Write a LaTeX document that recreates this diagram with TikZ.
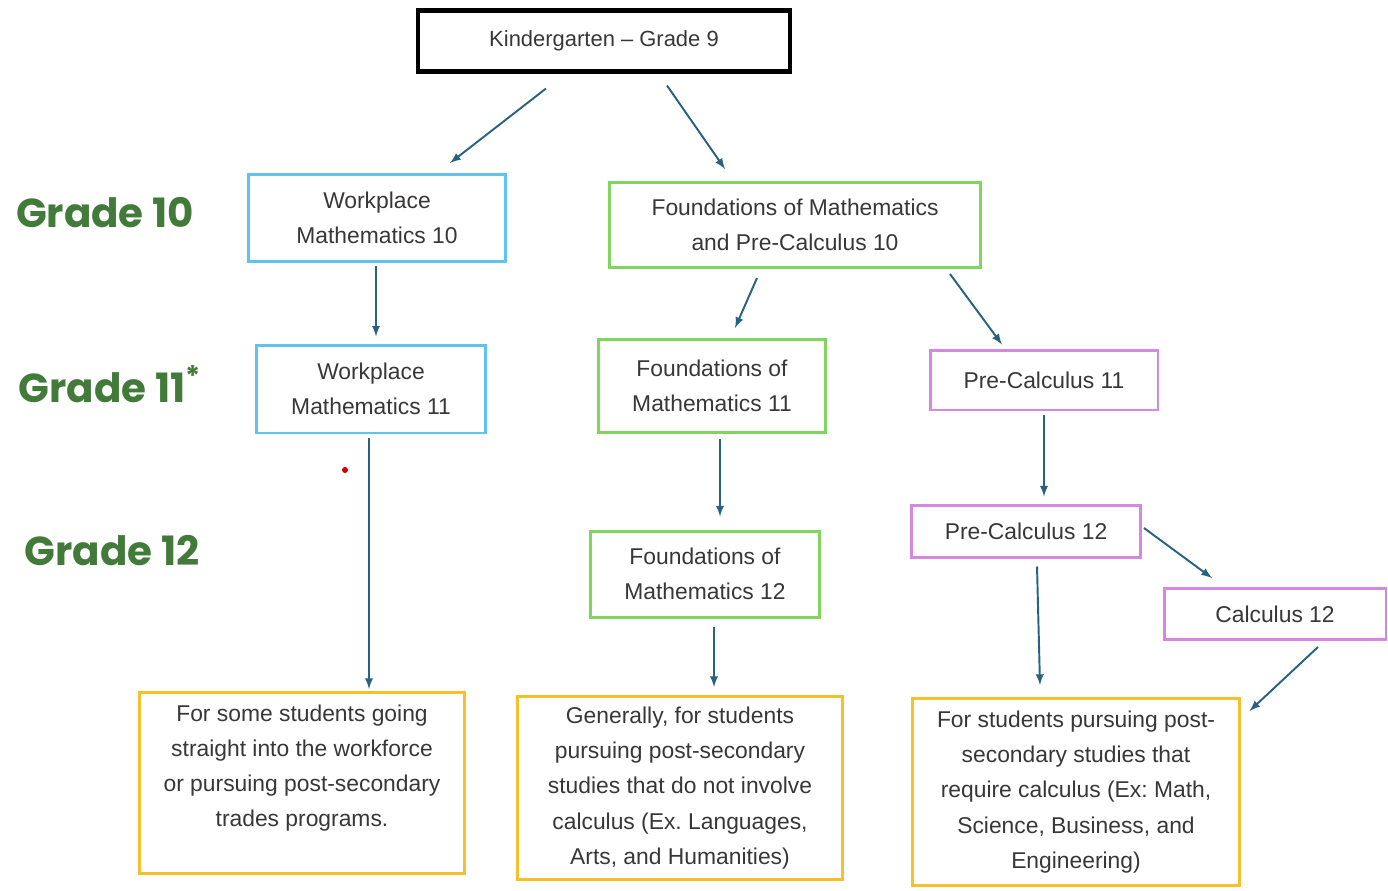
\documentclass[tikz,border=0pt]{standalone}
\usepackage{fontspec}
\setmainfont{Liberation Sans}
\newfontfamily\gradefont{Poppins}
\frenchspacing

\definecolor{wpblue}{RGB}{95,195,238}
\definecolor{fmgreen}{RGB}{128,214,92}
\definecolor{pcpink}{RGB}{214,135,224}
\definecolor{outyellow}{RGB}{246,192,40}
\definecolor{arrblue}{RGB}{40,98,128}
\definecolor{txtgray}{RGB}{55,55,55}
\definecolor{gradegreen}{RGB}{66,122,58}

\begin{document}
\begin{tikzpicture}[x=0.02cm,y=-0.02cm,
  box/.style={draw,line width=1.7pt,align=center,inner sep=0pt,text=txtgray,
    font=\fontsize{13}{20}\selectfont},
  arr/.style={draw=arrblue,line width=1.1pt,-{latex}},
  grade/.style={text=gradegreen,font=\gradefont\bfseries\fontsize{23}{26}\selectfont}]

\useasboundingbox (0,0) rectangle (1388,890);

% grade labels
\node [grade] (g10) at (105,213) {Grade 10};
\node [grade] (g11) at (110,384) {Grade 11\textsuperscript{*}};
\node [grade] (g12) at (112,551) {Grade 12};

% courses
\node [box,draw=black,line width=2.3pt,minimum width=7.44cm,minimum height=1.22cm,
  font=\fontsize{12.5}{18}\selectfont] (kg) at (604,41) {Kindergarten -- Grade 9};
\node [box,draw=wpblue,minimum width=5.16cm,minimum height=1.74cm] (wp10) at (377,218)
  {Workplace\\Mathematics 10};
\node [box,draw=fmgreen,minimum width=7.42cm,minimum height=1.70cm] (fpc10) at (795,225)
  {Foundations of Mathematics\\and Pre-Calculus 10};
\node [box,draw=wpblue,minimum width=4.58cm,minimum height=1.76cm] (wp11) at (371,389)
  {Workplace\\Mathematics 11};
\node [box,draw=fmgreen,minimum width=4.56cm,minimum height=1.86cm] (fm11) at (712,386)
  {Foundations of\\Mathematics 11};
\node [box,draw=pcpink,minimum width=4.56cm,minimum height=1.20cm] (pc11) at (1044,380)
  {Pre-Calculus 11};
\node [box,draw=fmgreen,minimum width=4.58cm,minimum height=1.72cm] (fm12) at (705,574)
  {Foundations of\\Mathematics 12};
\node [box,draw=pcpink,minimum width=4.58cm,minimum height=1.04cm] (pc12) at (1026,531)
  {Pre-Calculus 12};
\node [box,draw=pcpink,minimum width=4.44cm,minimum height=1.02cm] (calc12) at (1275,614)
  {Calculus 12};

% where they lead
\node [box,draw=outyellow,minimum width=6.52cm,minimum height=3.62cm] (trades) at (302,783)
  {For some students going\\straight into the workforce\\or pursuing post-secondary\\trades programs.\\~};
\node [box,draw=outyellow,minimum width=6.50cm,minimum height=3.66cm] (nocalc) at (680,788)
  {Generally, for students\\pursuing post-secondary\\studies that do not involve\\calculus (Ex. Languages,\\Arts, and Humanities)};
\node [box,draw=outyellow,minimum width=6.56cm,minimum height=3.74cm] (calc) at (1076,792)
  {For students pursuing post-\\secondary studies that\\require calculus (Ex: Math,\\Science, Business, and\\Engineering)};

\fill [red!80!black] (345,470) circle [radius=3];

% arrows
\draw [arr] ([shift={(-58,15)}]kg.south) -- ([shift={(73,-10)}]wp10.north);
\draw [arr] ([shift={(63,12)}]kg.south) -- ([shift={(-70,-12)}]fpc10.north);
\draw [arr] ([shift={(-1,3)}]wp10.south) -- ([shift={(5,-7)}]wp11.north);
\draw [arr] ([shift={(-38,9)}]fpc10.south) -- ([shift={(23,-10)}]fm11.north);
\draw [arr] ([shift={(155,5)}]fpc10.south) -- ([shift={(-42,-4)}]pc11.north);
\draw [arr] ([shift={(-2,4)}]wp11.south) -- ([shift={(67,-2)}]trades.north);
\draw [arr] ([shift={(8,5)}]fm11.south) -- ([shift={(15,-13)}]fm12.north);
\draw [arr] ([shift={(0,3)}]pc11.south) -- ([shift={(18,-7)}]pc12.north);
\draw [arr] ([shift={(9,8)}]fm12.south) -- ([shift={(34,-8)}]nocalc.north);
\draw [arr] ([shift={(2,-3)}]pc12.east) -- ([shift={(-63,-9)}]calc12.north);
\draw [arr] ([shift={(11,8)}]pc12.south) -- ([shift={(-36,-12)}]calc.north);
\draw [arr] ([shift={(43,6)}]calc12.south) -- ([shift={(8,14)}]calc.north east);

\end{tikzpicture}
\end{document}
